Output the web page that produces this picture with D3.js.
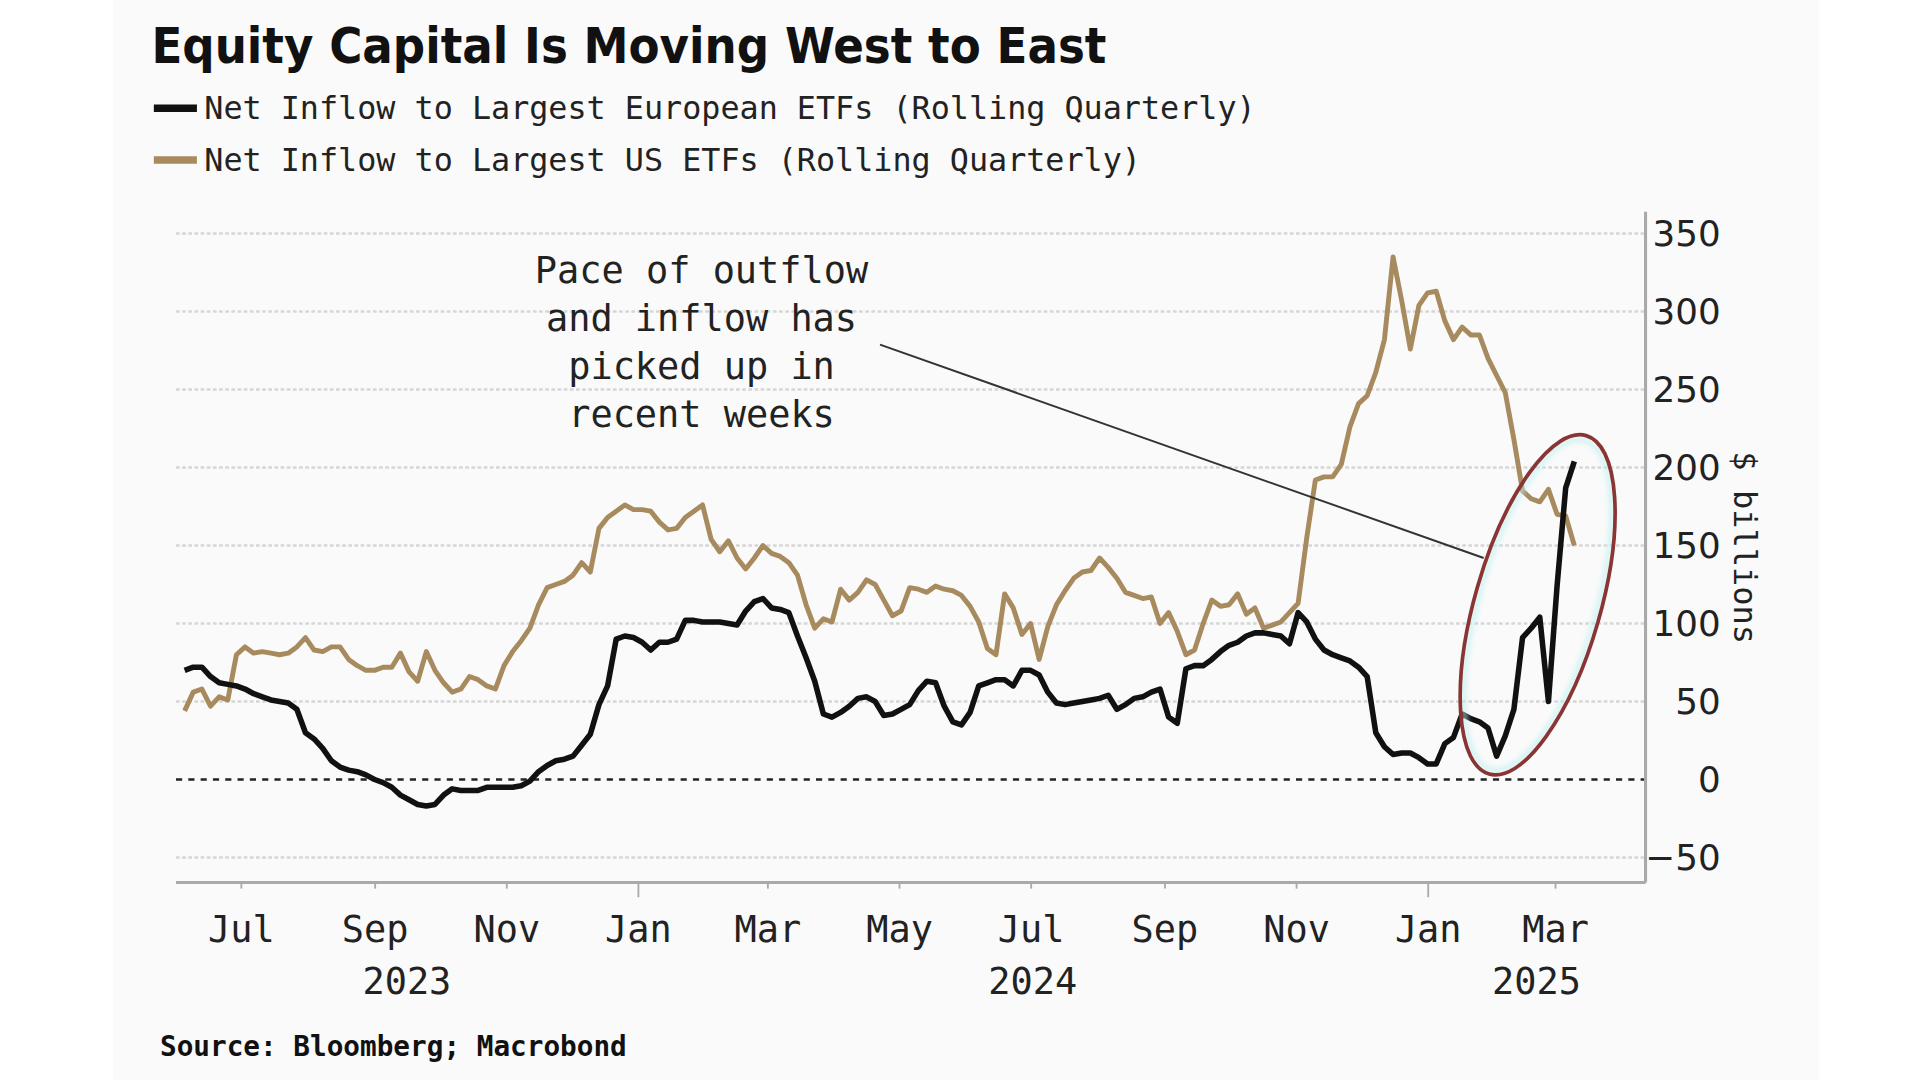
<!DOCTYPE html>
<html>
<head>
<meta charset="utf-8">
<script src="https://cdn.jsdelivr.net/npm/d3@7"></script>
<style>
  html, body { margin: 0; padding: 0; background: #ffffff; }
  svg { display: block; }
  .mono { font-family: "DejaVu Sans Mono", monospace; }
</style>
</head>
<body>
<svg id="chart" width="1920" height="1080" viewBox="0 0 1560 877.5"></svg>
<script>
// series, one value every 4 days from 5 Jun 2023
const startDate = new Date(2023, 5, 5);
const stepDays = 4;

const europe = [
	70, 72, 72, 66, 62, 61, 60, 58, 55, 53,
	51, 50, 49, 45, 30, 26, 20, 12, 8, 6,
	5, 3, 0, -2, -5, -10, -13, -16, -17, -16,
	-10, -6, -7, -7, -7, -5, -5, -5, -5, -4,
	-1, 5, 9, 12, 13, 15, 22, 29, 48, 60,
	90, 92, 91, 88, 83, 88, 88, 90, 102, 102,
	101, 101, 101, 100, 99, 108, 114, 116, 110, 109,
	107, 92, 78, 63, 42, 40, 43, 47, 52, 53,
	50, 41, 42, 45, 48, 57, 63, 62, 47, 37,
	35, 43, 60, 62, 64, 64, 60, 70, 70, 67,
	56, 49, 48, 49, 50, 51, 52, 54, 45, 48,
	52, 53, 56, 58, 40, 36, 71, 73, 73, 77,
	82, 86, 88, 92, 94, 94, 93, 92, 87, 107,
	101, 90, 83, 80, 78, 76, 72, 66, 30, 21,
	16, 17, 17, 14, 10, 10, 23, 27, 42, 39,
	37, 33, 15, 28, 45, 91, 97, 104, 50, 124,
	187, 204
];

const us = [
	44, 56, 58, 47, 53, 51, 80, 85, 81, 82,
	81, 80, 81, 85, 91, 83, 82, 85, 85, 77,
	73, 70, 70, 72, 72, 81, 69, 63, 82, 70,
	62, 56, 58, 66, 64, 60, 58, 73, 82, 89,
	97, 112, 123, 125, 127, 131, 139, 133, 161, 168,
	172, 176, 173, 173, 172, 165, 160, 161, 168, 172,
	176, 154, 146, 153, 142, 135, 142, 150, 145, 143,
	139, 131, 112, 97, 103, 101, 122, 115, 120, 128,
	125, 115, 105, 108, 123, 122, 120, 124, 122, 121,
	118, 111, 101, 84, 80, 119, 110, 93, 100, 77,
	98, 112, 121, 129, 133, 134, 142, 136, 129, 120,
	118, 116, 117, 100, 107, 95, 80, 83, 100, 115,
	111, 112, 119, 106, 110, 97, 99, 101, 107, 113,
	155, 192, 194, 194, 202, 226, 241, 246, 261, 282,
	335, 307, 276, 304, 312, 313, 294, 282, 290, 285,
	285, 270, 259, 248, 218, 185, 180, 178, 186, 170,
	169, 150
];

const yTicks = [-50, 0, 50, 100, 150, 200, 250, 300, 350];
const monthTicks = ['2023-07-01', '2023-09-01', '2023-11-01', '2024-01-01', '2024-03-01', '2024-05-01',
	'2024-07-01', '2024-09-01', '2024-11-01', '2025-01-01', '2025-03-01'];
const yearLabels = ['2023', '2024', '2025'];

const titleText = 'Equity Capital Is Moving West to East';
const legendLabels = ['Net Inflow to Largest European ETFs (Rolling Quarterly)', 'Net Inflow to Largest US ETFs (Rolling Quarterly)'];
const noteLines = ['Pace of outflow', 'and inflow has', 'picked up in', 'recent weeks'];
const notePoint = ['2025-01-27', 142];
const circleSpan = [['2025-01-17', 3], ['2025-03-28', 221]];
const sourceText = 'Source: Bloomberg; Macrobond';

const black = '#111111';
const tan = '#a88a5f';

const plotLeft = 143;
const plotRight = 1337;
const plotTop = 172;
const plotBottom = 717;

const parse = d3.timeParse('%Y-%m-%d');
const dates = europe.map((v, i) => d3.timeDay.offset(startDate, i * stepDays));

const x = d3.scaleTime()
	.domain([new Date(2023, 5, 1), new Date(2025, 3, 12)])
	.range([plotLeft, plotRight]);

const y = d3.scaleLinear()
	.domain([-66, 364])
	.range([plotBottom, plotTop]);

const svg = d3.select('#chart');

// faint panel behind everything
svg.append('rect')
	.attr('x', 92).attr('y', 0)
	.attr('width', 1386).attr('height', 877.5)
	.attr('fill', '#fafafa');

// title + legend
svg.append('text')
	.attr('x', 123)
	.attr('y', 51)
	.attr('font-family', 'DejaVu Sans')
	.attr('font-weight', 'bold')
	.attr('font-size', 40)
	.attr('textLength', 776)
	.attr('lengthAdjust', 'spacingAndGlyphs')
	.attr('fill', '#111')
	.text(titleText);

const legend = svg.append('g');
legendLabels.forEach((label, i) => {
	const ly = 88 + i * 42;
	legend.append('line')
		.attr('x1', 125).attr('x2', 160)
		.attr('y1', ly).attr('y2', ly)
		.attr('stroke', i === 0 ? black : tan)
		.attr('stroke-width', 6);
	legend.append('text')
		.attr('class', 'mono')
		.attr('x', 166)
		.attr('y', ly + 9)
		.attr('font-size', 25.8)
		.attr('fill', '#222')
		.text(label);
});

// gridlines
svg.append('g')
	.selectAll('line')
	.data(yTicks.filter(d => d !== 0))
	.join('line')
	.attr('x1', plotLeft).attr('x2', plotRight)
	.attr('y1', d => y(d)).attr('y2', d => y(d))
	.attr('stroke', '#d6d6d6')
	.attr('stroke-width', 2)
	.attr('stroke-dasharray', '3 2');

svg.append('line')
	.attr('x1', plotLeft).attr('x2', plotRight)
	.attr('y1', y(0)).attr('y2', y(0))
	.attr('stroke', '#222')
	.attr('stroke-width', 2)
	.attr('stroke-dasharray', '5 5');

// y axis on the right
const yAxis = d3.axisRight(y)
	.tickValues(yTicks)
	.tickSize(0)
	.tickPadding(0);

const yg = svg.append('g')
	.attr('transform', `translate(${plotRight},0)`)
	.call(yAxis);
yg.select('.domain')
	.attr('d', `M0,${plotTop}V${plotBottom}`)
	.attr('stroke', '#aaa')
	.attr('stroke-width', 2.5);
yg.selectAll('text')
	.attr('x', 61)
	.attr('text-anchor', 'end')
	.attr('font-family', 'DejaVu Sans')
	.attr('font-size', 29)
	.attr('fill', '#222');

svg.append('text')
	.attr('class', 'mono')
	.attr('transform', `translate(1409,445) rotate(90)`)
	.attr('text-anchor', 'middle')
	.attr('font-size', 26)
	.attr('fill', '#222')
	.text('$ billions');

// x axis
const xAxis = d3.axisBottom(x)
	.tickValues(monthTicks.map(parse))
	.tickSize(0)
	.tickFormat(d3.timeFormat('%b'));

const xg = svg.append('g')
	.attr('transform', `translate(0,${plotBottom})`)
	.call(xAxis);
xg.select('.domain')
	.attr('d', `M${plotLeft},0H${plotRight}`)
	.attr('stroke', '#aaa')
	.attr('stroke-width', 2.5);
xg.selectAll('.tick line')
	.attr('y2', d => d.getMonth() === 0 ? 12 : 5)
	.attr('stroke', '#aaa')
	.attr('stroke-width', 1.5);
xg.selectAll('.tick text')
	.attr('y', 48)
	.attr('dy', 0)
	.attr('class', 'mono')
	.attr('font-size', 30)
	.attr('fill', '#222');

// year labels centred on the visible part of each year
const yearSpan = yr => {
	const a = Math.max(x(new Date(+yr, 0, 1)), plotLeft);
	const b = Math.min(x(new Date(+yr + 1, 0, 1)), plotRight);
	return (a + b) / 2;
};
svg.append('g')
	.selectAll('text')
	.data(yearLabels)
	.join('text')
	.attr('class', 'mono')
	.attr('x', yearSpan)
	.attr('y', 808)
	.attr('text-anchor', 'middle')
	.attr('font-size', 30)
	.attr('fill', '#222')
	.text(d => d);

// series
const line = d3.line()
	.x((d, i) => x(dates[i]))
	.y(d => y(d));

svg.append('path')
	.datum(us)
	.attr('d', line)
	.attr('fill', 'none')
	.attr('stroke', tan)
	.attr('stroke-width', 4)
	.attr('stroke-linejoin', 'round');

svg.append('path')
	.datum(europe)
	.attr('d', line)
	.attr('fill', 'none')
	.attr('stroke', black)
	.attr('stroke-width', 4.5)
	.attr('stroke-linejoin', 'round');

// annotation
const note = svg.append('text')
	.attr('class', 'mono')
	.attr('text-anchor', 'middle')
	.attr('font-size', 30)
	.attr('fill', '#222');
noteLines.forEach((t, i) => {
	note.append('tspan')
		.attr('x', 570)
		.attr('y', 230 + i * 39)
		.text(t);
});

svg.append('line')
	.attr('x1', 715).attr('y1', 280)
	.attr('x2', x(parse(notePoint[0]))).attr('y2', y(notePoint[1]))
	.attr('stroke', '#333')
	.attr('stroke-width', 1.6);

// red ring around the recent move
const defs = svg.append('defs');
defs.append('filter')
	.attr('id', 'glow')
	.attr('x', '-30%').attr('y', '-30%')
	.attr('width', '160%').attr('height', '160%')
	.append('feGaussianBlur')
	.attr('stdDeviation', 2);

const cx0 = x(parse(circleSpan[0][0]));
const cx1 = x(parse(circleSpan[1][0]));
const cy0 = y(circleSpan[0][1]);
const cy1 = y(circleSpan[1][1]);
const ecx = (cx0 + cx1) / 2;
const ecy = (cy0 + cy1) / 2;

svg.append('ellipse')
	.attr('cx', ecx).attr('cy', ecy)
	.attr('rx', 48).attr('ry', 139)
	.attr('transform', `rotate(16,${ecx},${ecy})`)
	.attr('fill', 'none')
	.attr('stroke', '#bfeff0')
	.attr('stroke-opacity', 0.7)
	.attr('stroke-width', 4)
	.attr('filter', 'url(#glow)');

svg.append('ellipse')
	.attr('cx', ecx).attr('cy', ecy)
	.attr('rx', 51).attr('ry', 143)
	.attr('transform', `rotate(16,${ecx},${ecy})`)
	.attr('fill', 'none')
	.attr('stroke', '#8a3434')
	.attr('stroke-width', 3);

// source
svg.append('text')
	.attr('class', 'mono')
	.attr('x', 130)
	.attr('y', 858)
	.attr('font-size', 22.5)
	.attr('font-weight', 'bold')
	.attr('fill', '#111')
	.text(sourceText);
</script>
</body>
</html>
